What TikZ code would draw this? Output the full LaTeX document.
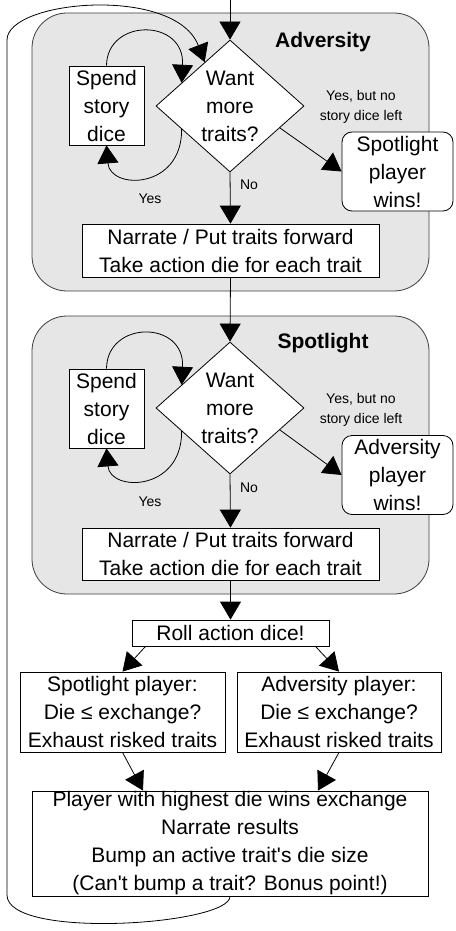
\documentclass[tikz,border=0pt]{standalone}
\usepackage{fontspec}
\setmainfont{Liberation Sans}[Ligatures=TeXOff]
\usetikzlibrary{arrows.meta,shapes.geometric,calc}
\definecolor{groupfill}{RGB}{230,230,230}
\definecolor{groupline}{RGB}{60,60,60}
\begin{document}
\begin{tikzpicture}[x=1pt,y=-1pt,
  every node/.style={font=\fontsize{21}{28}\selectfont, align=center},
  box/.style={draw=black, fill=white, line width=0.8pt, inner sep=0pt},
  rbox/.style={box, rounded corners=10pt},
  decision/.style={draw=black, fill=white, diamond, line width=0.8pt, inner sep=0pt, minimum width=148pt, minimum height=132pt},
  group/.style={draw=groupline, fill=groupfill, line width=0.8pt, rounded corners=35pt, minimum width=397pt, minimum height=278pt},
  lbl/.style={font=\fontsize{14}{20}\selectfont, inner sep=0pt},
  title/.style={font=\fontsize{21}{25}\selectfont\bfseries, inner sep=0pt},
  arr/.style={-{Triangle[length=18pt,width=21pt]}, line width=0.8pt}
]
\useasboundingbox (0,0) rectangle (455,931);

% groups
\node[group] (gA) at (230.5,152) {};
\node[group] (gS) at (230.5,455) {};
\node[title] (tA) at (323,42) {Adversity};
\node[title] (tS) at (323,343) {Spotlight};

% adversity phase
\node[decision] (d1) at (230,106) {Want\\more\\traits?};
\node[box, minimum width=75pt, minimum height=79pt] (s1) at (106.5,105.5) {Spend\\story\\dice};
\node[rbox, minimum width=111pt, minimum height=79pt] (w1) at (397.5,171.5) {Spotlight\\player\\wins!};
\node[box, minimum width=297pt, minimum height=53pt] (n1) at (230.5,250.5) {Narrate / Put traits forward\\Take action die for each trait};
\node[lbl] (yes1) at (150,199) {Yes};
\node[lbl] (no1) at (249,185) {No};
\node[lbl] (nl1) at (361,107) {Yes, but no\\story dice left};

% spotlight phase
\node[decision] (d2) at (230,408) {Want\\more\\traits?};
\node[box, minimum width=75pt, minimum height=79pt] (s2) at (106.5,408.5) {Spend\\story\\dice};
\node[rbox, minimum width=111pt, minimum height=79pt] (w2) at (397.5,475) {Adversity\\player\\wins!};
\node[box, minimum width=297pt, minimum height=52pt] (n2) at (230.5,554) {Narrate / Put traits forward\\Take action die for each trait};
\node[lbl] (yes2) at (150,502) {Yes};
\node[lbl] (no2) at (249,488) {No};
\node[lbl] (nl2) at (361,410) {Yes, but no\\story dice left};

% resolution
\node[box, minimum width=197pt, minimum height=26pt] (roll) at (230.5,633) {Roll action dice!};
\node[box, minimum width=205pt, minimum height=80pt] (sp) at (122.5,712) {Spotlight player:\\Die ≤ exchange?\\Exhaust risked traits};
\node[box, minimum width=204pt, minimum height=80pt] (ap) at (339,712) {Adversity player:\\Die ≤ exchange?\\Exhaust risked traits};
\node[box, minimum width=396pt, minimum height=105pt] (final) at (230,843.5) {Player with highest die wins exchange\\Narrate results\\Bump an active trait's die size\\(Can't bump a trait? Bonus point!)};

% connectors
\coordinate (top) at (230,0);
\draw[arr] (top) -- (d1.north);
\draw[arr] (s1.north) .. controls (107,18) and (185,18) .. ($(d1.west)!0.35!(d1.north)$);
\draw[arr] ($(d1.west)!0.35!(d1.south)$) .. controls (182,190) and (110,190) .. (s1.south);
\draw[arr] ($(d1.east)!0.33!(d1.south)$) -- (w1.west);
\draw[arr] (d1.south) -- (n1.north);
\draw[arr] (n1.south) -- (d2.north);

\draw[arr] (s2.north) .. controls (107,320) and (185,320) .. ($(d2.west)!0.35!(d2.north)$);
\draw[arr] ($(d2.west)!0.35!(d2.south)$) .. controls (182,492) and (110,492) .. (s2.south);
\draw[arr] ($(d2.east)!0.33!(d2.south)$) -- (w2.west);
\draw[arr] (d2.south) -- (n2.north);
\draw[arr] (n2.south) -- (roll.north);

\draw[arr] ([xshift=-85pt]roll.south) -- (sp.north);
\draw[arr] ([xshift=85pt]roll.south) -- (ap.north);
\draw[arr] (sp.south) -- ([xshift=-87pt]final.north);
\draw[arr] (ap.south) -- ([xshift=88pt]final.north);

\coordinate (lb) at (7,895);
\coordinate (lt) at (7,40);
\draw[arr] (final.south) .. controls (230,925) and (7,940) .. (lb) -- (lt) .. controls (7,0) and (175,-15) .. ($(d1.west)!0.66!(d1.north)$);
\end{tikzpicture}
\end{document}
